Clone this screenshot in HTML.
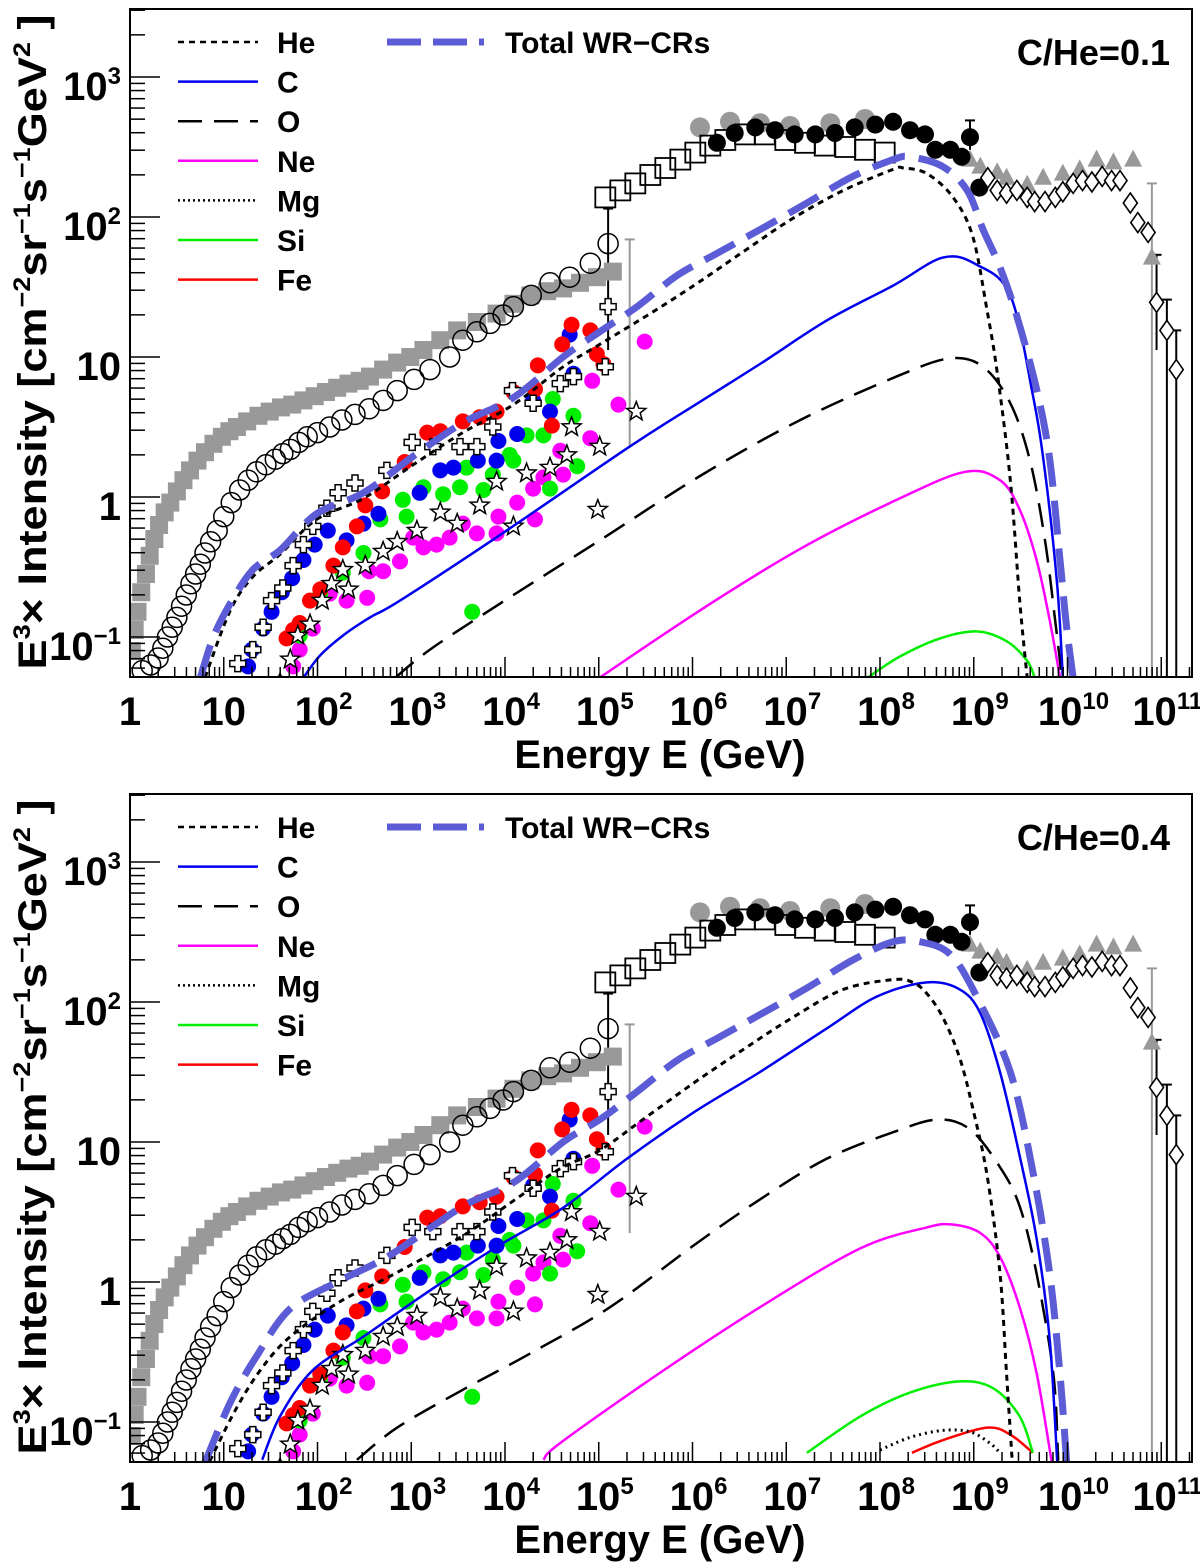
<!DOCTYPE html>
<html><head><meta charset="utf-8"><title>WR-CRs spectra</title>
<style>
html,body{margin:0;padding:0;background:#fff;}
svg{display:block;font-family:"Liberation Sans",Arial,sans-serif;font-weight:bold;}
</style></head>
<body>
<svg id="chart" width="1200" height="1568" viewBox="0 0 1200 1568" xmlns="http://www.w3.org/2000/svg">
<rect x="0" y="0" width="1200" height="1568" fill="#fff"/>
</svg>
<script>
// ---------- measured data (log10 E [GeV], log10 E^3 I) ----------
const graySqE=[0.02,0.05,0.08,0.12,0.17,0.21,0.26,0.31,0.37,0.43,0.50,0.57,0.64,0.72,0.80,0.89,0.98,1.06,1.14,1.25,1.37,1.49,1.61,1.73,1.85,1.97,2.09,2.21,2.33,2.45,2.56,2.70,2.85,2.99,3.13,3.31,3.49,3.70,3.91,4.09,4.27,4.45,4.62,4.80,4.98,5.15];
const graySqI=[-1.10,-0.95,-0.82,-0.68,-0.55,-0.42,-0.30,-0.20,-0.11,-0.04,0.04,0.12,0.19,0.26,0.32,0.38,0.43,0.47,0.50,0.54,0.58,0.61,0.64,0.66,0.69,0.72,0.75,0.78,0.81,0.83,0.86,0.91,0.96,1.00,1.05,1.12,1.19,1.25,1.31,1.38,1.44,1.47,1.49,1.53,1.57,1.61];
const openCircE=[0.13,0.22,0.30,0.35,0.40,0.45,0.50,0.55,0.60,0.65,0.70,0.75,0.80,0.86,0.93,1.00,1.08,1.17,1.26,1.35,1.45,1.55,1.63,1.71,1.80,1.89,2.00,2.13,2.26,2.40,2.55,2.70,2.85,3.03,3.20,3.41,3.55,3.70,3.84,3.98,4.09,4.28,4.48,4.69,4.91,5.10];
const openCircI=[-1.24,-1.20,-1.15,-1.08,-1.00,-0.93,-0.86,-0.78,-0.70,-0.62,-0.55,-0.48,-0.40,-0.32,-0.24,-0.14,-0.04,0.05,0.12,0.18,0.23,0.27,0.31,0.34,0.39,0.43,0.46,0.50,0.55,0.59,0.63,0.69,0.76,0.84,0.91,1.00,1.12,1.18,1.24,1.30,1.36,1.44,1.53,1.57,1.67,1.81];
const openSqE=[5.07,5.23,5.39,5.55,5.71,5.87,6.03,6.19,6.35,6.56,6.77,6.99,7.20,7.41,7.63,7.84,8.05];
const openSqI=[2.14,2.19,2.24,2.30,2.35,2.41,2.46,2.51,2.55,2.59,2.59,2.55,2.53,2.51,2.50,2.48,2.46];
const grayCircE=[6.08,6.40,6.72,7.04,7.47,7.84];
const grayCircI=[2.64,2.68,2.67,2.65,2.67,2.70];
const blackCircE=[6.26,6.45,6.67,6.88,7.09,7.31,7.52,7.73,7.95,8.14,8.32,8.48,8.59,8.75,8.87,8.96,9.06];
const blackCircI=[2.53,2.60,2.64,2.62,2.59,2.59,2.60,2.64,2.66,2.68,2.62,2.59,2.48,2.48,2.43,2.57,2.21];
const triE=[8.96,9.07,9.25,9.35,9.57,9.74,9.95,10.13,10.31,10.49,10.70,10.90];
const triI=[2.41,2.36,2.32,2.28,2.23,2.28,2.31,2.34,2.41,2.39,2.41,1.71];
const diaE=[9.15,9.25,9.35,9.46,9.57,9.65,9.76,9.87,9.95,10.06,10.16,10.26,10.37,10.47,10.56,10.67,10.75,10.86,10.95,11.06,11.16];
const diaI=[2.28,2.19,2.17,2.19,2.14,2.11,2.11,2.14,2.18,2.24,2.26,2.25,2.29,2.26,2.26,2.10,1.96,1.89,1.39,1.19,0.91];
const crossE=[1.15,1.31,1.42,1.51,1.63,1.74,1.85,1.95,2.10,2.22,2.40,2.74,3.01,3.23,3.52,3.70,3.87,4.08,4.30,4.59,4.73,5.07,5.10];
const crossI=[-1.19,-1.09,-0.93,-0.74,-0.65,-0.49,-0.34,-0.21,-0.08,0.03,0.10,0.19,0.39,0.36,0.36,0.36,0.50,0.76,0.67,0.81,0.86,0.93,1.36];
const blueE=[1.26,1.30,1.42,1.51,1.62,1.73,1.85,1.97,2.11,2.31,2.49,2.65,3.09,3.31,3.45,3.71,3.91,3.93,4.13,4.30,4.48,4.73,4.69];
const blueI=[-1.21,-1.09,-0.94,-0.82,-0.68,-0.58,-0.45,-0.34,-0.24,-0.31,-0.19,-0.12,0.03,0.19,0.21,0.26,0.26,0.40,0.45,0.69,0.61,0.88,1.16];
const redE=[1.67,1.74,1.81,1.92,2.03,2.17,2.27,2.42,2.51,2.69,2.93,3.17,3.31,3.55,3.73,3.91,4.09,4.32,4.35,4.50,4.61,4.71,4.91,4.98,5.05];
const redI=[-1.01,-0.95,-0.90,-0.74,-0.66,-0.49,-0.36,-0.21,-0.06,0.04,0.25,0.46,0.47,0.54,0.57,0.61,0.75,0.77,0.94,0.51,1.09,1.23,1.19,1.02,0.95];
const greenE=[1.60,1.81,2.03,2.27,2.49,2.67,2.91,2.95,3.13,3.34,3.52,3.59,3.77,3.87,4.05,4.09,4.23,4.41,4.48,4.51,4.73,4.77,3.65];
const greenI=[-1.33,-0.99,-0.69,-0.54,-0.40,-0.16,-0.02,-0.14,0.07,0.02,0.07,0.21,0.05,0.16,0.30,0.26,0.44,0.44,0.06,0.70,0.58,0.22,-0.82];
const magE=[1.74,1.81,1.95,2.13,2.31,2.53,2.55,2.70,2.88,3.02,3.13,3.27,3.41,3.55,3.70,3.91,3.93,4.13,4.32,4.30,4.41,4.62,4.59,4.91,4.93,5.21,5.49];
const magI=[-1.21,-1.09,-0.94,-0.69,-0.74,-0.72,-0.53,-0.53,-0.46,-0.29,-0.36,-0.34,-0.29,-0.19,-0.26,-0.26,-0.14,-0.04,-0.16,0.06,0.14,0.16,0.33,0.42,0.83,0.66,1.11];
const starE=[1.60,1.71,1.79,1.92,2.05,2.15,2.27,2.33,2.51,2.70,2.85,3.06,3.31,3.49,3.73,3.91,4.09,4.23,4.48,4.66,4.71,5.01,4.99,5.40];
const starI=[-1.33,-1.16,-0.99,-0.91,-0.74,-0.62,-0.52,-0.66,-0.49,-0.39,-0.32,-0.24,-0.11,-0.19,-0.06,0.11,-0.21,0.17,0.21,0.30,0.50,0.36,-0.09,0.61];
const errE=[10.90,10.95,11.06,11.16,5.10,5.33,8.96];
const errHi=[2.24,1.73,1.41,1.19,2.06,1.84,2.69];
const errLo=[-1.4,1.05,-1.4,-1.4,1.05,0.35,2.48];
const errGray=[1,0,0,0,0,1,0];

// ---------- model curves: C/He = 0.1 ----------
const totTopE=[0.75,0.89,1.07,1.31,1.60,1.99,2.49,3.02,3.55,4.09,4.62,5.01,5.41,5.83,6.26,6.72,7.22,7.71,8.14,8.32,8.67,8.93,9.10,9.28,9.46,9.67,9.81,9.92,9.99,10.06];
const totTopI=[-1.29,-1.00,-0.76,-0.52,-0.38,-0.12,0.03,0.29,0.53,0.71,1.00,1.18,1.36,1.58,1.74,1.91,2.10,2.29,2.41,2.43,2.36,2.19,1.91,1.64,1.29,0.77,0.27,-0.45,-0.93,-1.29];
const heTopE=[0.80,1.07,1.31,1.60,1.99,2.49,3.02,3.55,4.09,4.62,5.01,5.62,6.08,6.58,7.07,7.61,8.14,8.25,8.50,8.78,8.99,9.14,9.25,9.39,9.49,9.57];
const heTopI=[-1.29,-0.81,-0.57,-0.41,-0.16,-0.01,0.23,0.46,0.66,0.93,1.09,1.34,1.54,1.77,1.99,2.19,2.34,2.35,2.31,2.14,1.86,1.34,0.89,0.12,-0.74,-1.29];
const cTopE=[1.85,2.03,2.29,2.56,2.88,3.95,5.33,6.08,6.72,7.43,8.14,8.67,9.03,9.39,9.63,9.76,9.89,9.95];
const cTopI=[-1.29,-1.13,-0.98,-0.86,-0.74,-0.27,0.36,0.68,0.95,1.26,1.51,1.71,1.66,1.44,0.73,0.18,-0.63,-1.29];
const oTopE=[2.83,3.20,3.95,5.01,6.08,7.15,8.21,8.75,9.10,9.39,9.60,9.76,9.87,9.94];
const oTopI=[-1.29,-1.09,-0.76,-0.31,0.15,0.55,0.87,0.99,0.93,0.67,0.26,-0.31,-0.89,-1.29];
const neTopE=[5.01,6.08,7.15,8.21,8.91,9.28,9.49,9.67,9.81,9.92];
const neTopI=[-1.29,-0.81,-0.37,-0.01,0.18,0.12,-0.09,-0.45,-0.88,-1.29];
const siTopE=[7.87,8.21,8.64,9.03,9.35,9.57,9.65];
const siTopI=[-1.29,-1.14,-1.01,-0.96,-1.03,-1.17,-1.29];

// ---------- model curves: C/He = 0.4 ----------
const totBotE=[0.80,1.07,1.35,1.71,2.24,2.77,3.55,4.09,4.62,5.01,5.41,5.83,6.26,6.72,7.22,7.71,8.14,8.43,8.75,9.03,9.39,9.63,9.81,9.92,9.99];
const totBotI=[-1.29,-0.86,-0.53,-0.19,0.01,0.19,0.54,0.71,1.00,1.16,1.36,1.58,1.74,1.91,2.10,2.30,2.43,2.43,2.34,2.04,1.50,0.79,0.06,-0.66,-1.28];
const heBotE=[0.85,1.12,1.39,1.71,2.24,2.77,3.55,4.09,4.59,5.01,5.47,6.01,6.54,7.07,7.61,8.14,8.35,8.50,8.67,8.85,8.99,9.14,9.28,9.35,9.41];
const heBotI=[-1.28,-0.92,-0.63,-0.39,-0.14,0.04,0.33,0.58,0.81,0.94,1.16,1.42,1.66,1.89,2.09,2.16,2.14,2.06,1.89,1.60,1.24,0.77,0.06,-0.66,-1.28];
const cBotE=[1.41,1.60,1.95,2.49,3.20,3.91,4.62,5.30,6.01,6.72,7.43,7.97,8.50,8.85,9.07,9.28,9.49,9.67,9.81,9.89];
const cBotI=[-1.27,-0.96,-0.63,-0.39,-0.06,0.25,0.53,0.88,1.21,1.50,1.81,2.04,2.14,2.09,1.92,1.50,0.90,0.31,-0.41,-1.28];
const oBotE=[2.42,2.85,3.55,4.27,5.12,6.01,6.72,7.43,8.14,8.61,8.96,9.28,9.49,9.67,9.85,9.90];
const oBotI=[-1.27,-1.04,-0.77,-0.51,-0.18,0.26,0.59,0.88,1.07,1.16,1.09,0.82,0.54,0.06,-0.66,-1.27];
const neBotE=[4.41,4.59,5.65,6.72,7.79,8.50,8.78,9.07,9.28,9.49,9.67,9.83];
const neBotI=[-1.27,-1.15,-0.65,-0.18,0.24,0.39,0.41,0.35,0.18,-0.18,-0.65,-1.28];
const siBotE=[7.22,7.79,8.32,8.85,9.21,9.49,9.63];
const siBotI=[-1.22,-0.96,-0.79,-0.71,-0.76,-0.96,-1.22];
const mgBotE=[8.00,8.32,8.67,8.96,9.17,9.28];
const mgBotI=[-1.20,-1.11,-1.06,-1.07,-1.15,-1.22];
const feBotE=[8.34,8.67,9.14,9.39,9.63];
const feBotI=[-1.22,-1.13,-1.04,-1.09,-1.22];

const xTickLabels=["1","10","10|2","10|3","10|4","10|5","10|6","10|7","10|8","10|9","10|10","10|11"];
const yTickLabels=["10|−1","1","10","10|2","10|3"];
const yTickVals=[-1,0,1,2,3];
const legendNames=["He","C","O","Ne","Mg","Si","Fe"];

// ---------- rendering ----------
const NS="http://www.w3.org/2000/svg";
const svg=document.getElementById('chart');
const X0=130, DEC=93.75, XR=1192;
function sx(l){return X0+DEC*l;}
function sy(l,off){return off+217-140*(l-2);}
function mk(tag,attrs,parent){const e=document.createElementNS(NS,tag);for(const k in attrs)e.setAttribute(k,attrs[k]);(parent||svg).appendChild(e);return e;}
function smoothPath(E,I,off){
  const p=E.map((e,i)=>[sx(e),sy(I[i],off)]);
  let d=`M${p[0][0].toFixed(1)},${p[0][1].toFixed(1)}`;
  for(let i=0;i<p.length-1;i++){
    const p0=p[Math.max(0,i-1)],p1=p[i],p2=p[i+1],p3=p[Math.min(p.length-1,i+2)];
    const c1=[p1[0]+(p2[0]-p0[0])/6,p1[1]+(p2[1]-p0[1])/6];
    const c2=[p2[0]-(p3[0]-p1[0])/6,p2[1]-(p3[1]-p1[1])/6];
    d+=`C${c1[0].toFixed(1)},${c1[1].toFixed(1)} ${c2[0].toFixed(1)},${c2[1].toFixed(1)} ${p2[0].toFixed(1)},${p2[1].toFixed(1)}`;
  }
  return d;
}
function starPts(cx,cy,r){let s=[];for(let k=0;k<10;k++){const a=-Math.PI/2+k*Math.PI/5;const rr=k%2?r*0.42:r;s.push((cx+rr*Math.cos(a)).toFixed(1)+','+(cy+rr*Math.sin(a)).toFixed(1));}return s.join(' ');}
function crossPath(cx,cy){const a=8,b=3;return `M${cx-b},${cy-a}h${2*b}v${a-b}h${a-b}v${2*b}h${-(a-b)}v${a-b}h${-2*b}v${-(a-b)}h${-(a-b)}v${-2*b}h${a-b}z`;}
function addSup(t,label,supSize){
  const parts=label.split('|');
  const a=mk('tspan',{},t);a.textContent=parts[0];
  if(parts[1]){const s=mk('tspan',{'font-size':supSize,dy:-16},t);s.textContent=parts[1];}
}

function drawPanel(off,curves,ratioText,pid){
  const g=mk('g',{});
  
  
  const cp=mk('clipPath',{id:'clip'+pid},g);
  mk('rect',{x:X0,y:off+9,width:XR-X0,height:668},cp);
  const pts=mk('g',{'clip-path':`url(#clip${pid})`},g);
  
  

  errE.forEach((e,i)=>{
    const col=errGray[i]?'#999':'#000';
    const x=sx(e);
    const l=mk('line',{x1:x,x2:x,y1:sy(errHi[i],off),y2:sy(errLo[i],off),stroke:col,'stroke-width':2},pts);
    
    
    const c=mk('line',{x1:x-5,x2:x+5,y1:sy(errHi[i],off),y2:sy(errHi[i],off),stroke:col,'stroke-width':2},pts);
    
    
  });
  graySqE.forEach((e,i)=>{
    const r=mk('rect',{x:sx(e)-9,y:sy(graySqI[i],off)-9,width:18,height:18,fill:'#999'},pts);
    
    
  });
  grayCircE.forEach((e,i)=>{
    const c=mk('circle',{cx:sx(e),cy:sy(grayCircI[i],off),r:10,fill:'#999'},pts);
    
    
  });
  triE.forEach((e,i)=>{
    const x=sx(e),y=sy(triI[i],off);
    const t=mk('polygon',{points:`${x},${y-10} ${x+9},${y+7} ${x-9},${y+7}`,fill:'#999'},pts);
    
    
  });
  openSqE.forEach((e,i)=>{
    const r=mk('rect',{x:sx(e)-10,y:sy(openSqI[i],off)-10,width:20,height:20,fill:'none',stroke:'#000','stroke-width':1.8},pts);
    
    
  });
  openCircE.forEach((e,i)=>{
    const c=mk('circle',{cx:sx(e),cy:sy(openCircI[i],off),r:10,fill:'none',stroke:'#000','stroke-width':1.5},pts);
    
    
  });
  blackCircE.forEach((e,i)=>{
    const c=mk('circle',{cx:sx(e),cy:sy(blackCircI[i],off),r:9,fill:'#000'},pts);
    
    
  });
  diaE.forEach((e,i)=>{
    const x=sx(e),y=sy(diaI[i],off);
    const d=mk('polygon',{points:`${x},${y-10} ${x+7},${y} ${x},${y+10} ${x-7},${y}`,fill:'#fff',stroke:'#000','stroke-width':1.6},pts);
    
    
  });
  const colSeries=[[magE,magI,'#ff00ff','neon-point'],[greenE,greenI,'#00ee00','silicon-point'],[blueE,blueI,'#0000ee','carbon-point'],[redE,redI,'#ff0000','iron-point']];
  colSeries.forEach(s=>{
    s[0].forEach((e,i)=>{
      const c=mk('circle',{cx:sx(e),cy:sy(s[1][i],off),r:8,fill:s[2]},pts);
      
      
    });
  });
  crossE.forEach((e,i)=>{
    const p=mk('path',{d:crossPath(sx(e),sy(crossI[i],off)),fill:'#fff',stroke:'#000','stroke-width':1.5},pts);
    
    
  });
  starE.forEach((e,i)=>{
    const p=mk('polygon',{points:starPts(sx(e),sy(starI[i],off),10),fill:'#fff',stroke:'#000','stroke-width':1.5},pts);
    
    
  });

  curves.forEach(cv=>{
    const p=mk('path',{d:smoothPath(cv.E,cv.I,off),fill:'none',stroke:cv.col,'stroke-width':cv.w,'stroke-dasharray':cv.dash||'none'},pts);
    
    
  });

  const fr=mk('rect',{x:X0,y:off+9,width:XR-X0,height:668,fill:'none',stroke:'#000','stroke-width':2},g);
  
  
  const yb=off+677;
  for(let d=0;d<=11;d++){
    for(let k=1;k<10;k++){
      const l=d+Math.log10(k);const x=sx(l);if(x>XR)continue;
      const len=k===1?20:10;
      const t=mk('line',{x1:x,x2:x,y1:yb,y2:yb-len,stroke:'#000','stroke-width':1.5},g);
      
      
    }
  }
  xTickLabels.forEach((lab,d)=>{
    const t=mk('text',{x:sx(d)+(d>1?6:0),y:off+725,'font-size':40,'text-anchor':'middle',fill:'#000'},g);
    
    
    addSup(t,lab,24);
  });
  for(let d=-2;d<=3;d++){
    for(let k=1;k<10;k++){
      const l=d+Math.log10(k);const y=sy(l,off);if(y>yb||y<off+9)continue;
      const len=k===1?30:15;
      const t=mk('line',{x1:X0,x2:X0+len,y1:y,y2:y,stroke:'#000','stroke-width':1.5},g);
      
      
    }
  }
  yTickLabels.forEach((lab,i)=>{
    const t=mk('text',{x:121,y:sy(yTickVals[i],off)+23,'font-size':40,'text-anchor':'end',fill:'#000'},g);
    
    
    addSup(t,lab,24);
  });
  const xt=mk('text',{x:660,y:off+768,'font-size':40,'text-anchor':'middle',fill:'#000'},g);
  
  
  xt.textContent='Energy E (GeV)';
  const yt=mk('text',{x:0,y:0,'font-size':40,'text-anchor':'middle',fill:'#000',transform:`translate(46,${off+342}) rotate(-90)`,textLength:655,lengthAdjust:'spacingAndGlyphs'},g);
  
  
  yt.innerHTML='E<tspan font-size="24" dy="-16">3</tspan><tspan dy="16">× Intensity [cm</tspan><tspan font-size="24" dy="-16">−2</tspan><tspan dy="16">sr</tspan><tspan font-size="24" dy="-16">−1</tspan><tspan dy="16">s</tspan><tspan font-size="24" dy="-16">−1</tspan><tspan dy="16">GeV</tspan><tspan font-size="24" dy="-16">2</tspan><tspan dy="16"> ]</tspan>';
  const leg=mk('g',{},g);
  
  
  const legStyles=[['#000',2.5,'6,5'],['#0000ee',2.5,''],['#000',2.5,'24,12'],['#ff00ff',2.5,''],['#000',2.5,'2,3'],['#00ee00',2.5,''],['#ff0000',2.5,'']];
  legendNames.forEach((n,i)=>{
    const y=off+42+i*39.6;
    const l=mk('line',{x1:178,x2:258,y1:y,y2:y,stroke:legStyles[i][0],'stroke-width':legStyles[i][1],'stroke-dasharray':legStyles[i][2]||'none'},leg);
    
    
    const t=mk('text',{x:277,y:y+11,'font-size':30,fill:'#000'},leg);
    
    
    t.textContent=n;
  });
  const tl=mk('line',{x1:387,x2:484,y1:off+42,y2:off+42,stroke:'#5c5cd6','stroke-width':7,'stroke-dasharray':'34,12'},leg);
  
  
  const tt=mk('text',{x:505,y:off+53,'font-size':30,fill:'#000'},leg);
  
  
  tt.textContent='Total WR−CRs';
  const rt=mk('text',{x:1170,y:off+65,'font-size':36,'text-anchor':'end',fill:'#000'},g);
  
  
  rt.textContent=ratioText;
}

const TOT='#5c5cd6';
drawPanel(0,[
  {E:siTopE,I:siTopI,col:'#00ee00',w:2.5,name:'si-curve'},
  {E:neTopE,I:neTopI,col:'#ff00ff',w:2.5,name:'ne-curve'},
  {E:oTopE,I:oTopI,col:'#000',w:2.5,dash:'24,12',name:'o-curve'},
  {E:cTopE,I:cTopI,col:'#0000ee',w:2.5,name:'c-curve'},
  {E:heTopE,I:heTopI,col:'#000',w:3,dash:'6,5',name:'he-curve'},
  {E:totTopE,I:totTopI,col:TOT,w:7,dash:'34,14',name:'total-curve'}
],'C/He=0.1','panel-top');
drawPanel(785,[
  {E:feBotE,I:feBotI,col:'#ff0000',w:2.5,name:'fe-curve'},
  {E:mgBotE,I:mgBotI,col:'#000',w:3,dash:'2,4',name:'mg-curve'},
  {E:siBotE,I:siBotI,col:'#00ee00',w:2.5,name:'si-curve'},
  {E:neBotE,I:neBotI,col:'#ff00ff',w:2.5,name:'ne-curve'},
  {E:oBotE,I:oBotI,col:'#000',w:2.5,dash:'24,12',name:'o-curve'},
  {E:cBotE,I:cBotI,col:'#0000ee',w:2.5,name:'c-curve'},
  {E:heBotE,I:heBotI,col:'#000',w:3,dash:'6,5',name:'he-curve'},
  {E:totBotE,I:totBotI,col:TOT,w:7,dash:'34,14',name:'total-curve'}
],'C/He=0.4','panel-bottom');
</script>
</body></html>
